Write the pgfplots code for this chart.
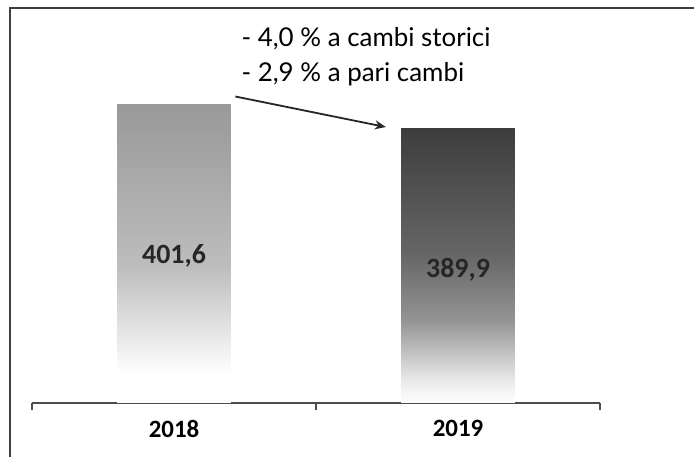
\documentclass[border=0pt]{standalone}
\usepackage{pgfplots}
\pgfplotsset{compat=1.18}
\usetikzlibrary{arrows.meta}
\usepackage{fontspec}
\setmainfont{Lato}
\newfontfamily\carlito{Carlito}
\pgfdeclareverticalshading{barone}{100bp}{color(0bp)=(white); color(25bp)=(white); color(30bp)=(white); color(48bp)=(black!26); color(75bp)=(black!40); color(100bp)=(black!40)}
\pgfdeclareverticalshading{bartwo}{100bp}{color(0bp)=(white); color(25bp)=(white); color(29bp)=(black!8); color(40bp)=(black!42); color(52bp)=(black!60); color(75bp)=(black!76); color(100bp)=(black!76)}
\begin{document}
\begin{tikzpicture}
\useasboundingbox (0,0) rectangle (694bp,457bp);
\draw[line width=1.5bp, black!75] (10bp,-10bp) -- (10bp,449bp) -- (710bp,449bp);
\begin{axis}[
  at={(32bp,54bp)}, anchor=south west,
  scale only axis, width=568bp, height=298.5bp,
  xmin=-0.5, xmax=1.5, ymin=0, ymax=145.6,
  y filter/.expression={y-256},
  axis y line=none, axis x line*=bottom,
  x axis line style={line width=1.3bp, black!70},
  xtick={0,1}, xticklabels={2018,2019},
  major tick length=0pt,
  minor xtick={-0.5,0.5,1.5}, minor tick length=7bp,
  tick align=outside,
  every minor tick/.style={line width=1.3bp, black!70},
  xticklabel style={font=\carlito\bfseries\fontsize{25}{27}\selectfont, yshift=-14bp},
  bar width=0.4, clip=false,
]
\addplot[ybar, draw=none, shading=barone] coordinates {(0,401.6)};
\addplot[ybar, draw=none, shading=bartwo] coordinates {(1,389.9)};
\node[font=\carlito\bfseries\fontsize{28}{30}\selectfont, black!85] at (axis cs:0,72) {401,6};
\node[font=\carlito\bfseries\fontsize{28}{30}\selectfont, black!85] at (axis cs:1,65) {389,9};
\draw[line width=1.8bp, black!85, -{Stealth[length=11bp,width=9bp]}] (axis cs:0.216,149.5) -- (axis cs:0.746,134.6);
\end{axis}
\node[anchor=base west, font=\fontsize{26}{28}\selectfont] at (238bp,410bp) {- 4,0 \% a cambi storici};
\node[anchor=base west, font=\fontsize{26}{28}\selectfont] at (238bp,375bp) {- 2,9 \% a pari cambi};
\end{tikzpicture}
\end{document}
